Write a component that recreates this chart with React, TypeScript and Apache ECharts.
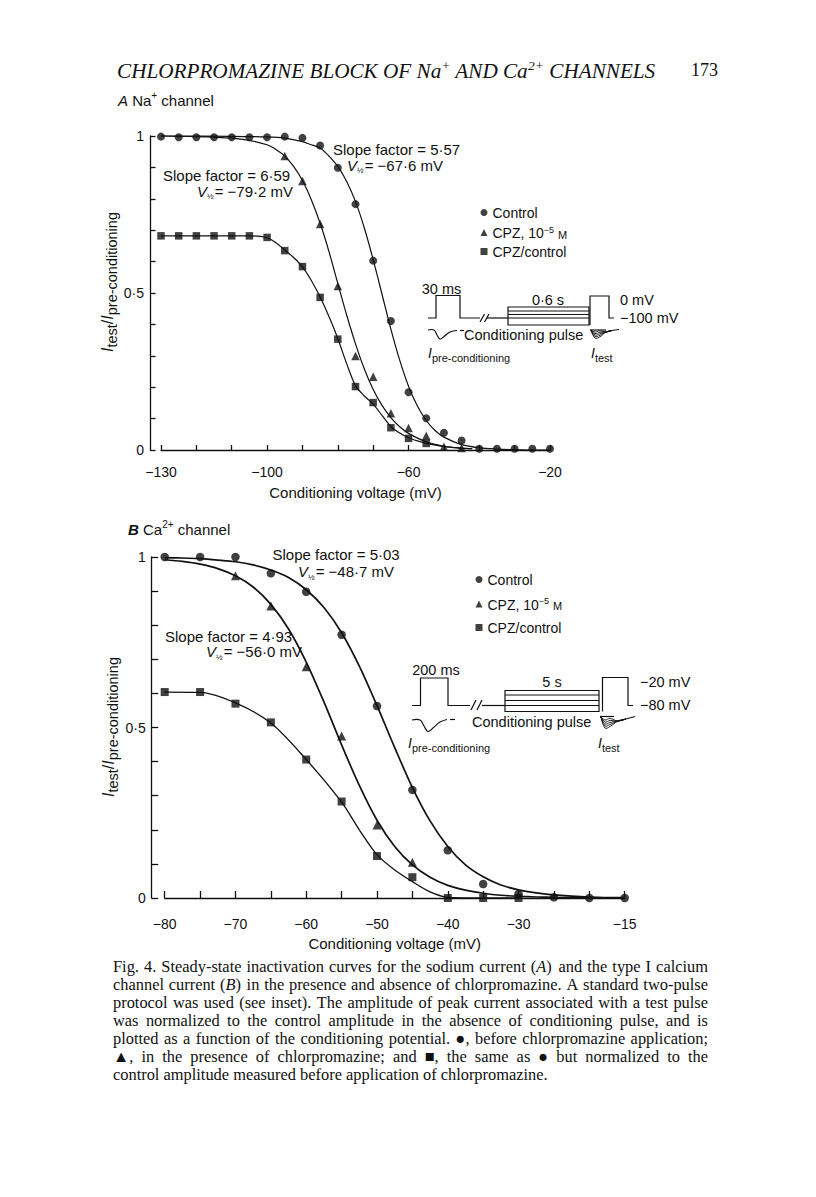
import React, { useEffect, useRef } from "react";
import * as echarts from "echarts";

// ---------------- Panel A: Na+ channel (measured points) ----------------
const naVoltage = [-130, -125, -120, -115, -110, -105, -100, -95, -90, -85, -80, -75, -70, -65, -60, -55, -50, -45, -40, -35, -30, -25, -20];
const naControl = [0.998, 0.996, 0.996, 0.996, 0.996, 0.996, 0.996, 0.998, 0.994, 0.97, 0.899, 0.783, 0.603, 0.411, 0.184, 0.101, 0.055, 0.03, 0.004, 0.004, 0.004, 0.004, 0.004];
const naCpzVoltage = [-95, -90, -85, -80, -75, -70, -65, -60, -55, -50, -45];
const naCpz = [0.936, 0.857, 0.72, 0.522, 0.299, 0.233, 0.117, 0.07, 0.045, 0.01, 0.006];
const naRatioVoltage = [-130, -125, -120, -115, -110, -105, -100, -95, -90, -85, -80, -75, -70, -65, -60, -55];
const naRatio = [0.682, 0.682, 0.682, 0.682, 0.682, 0.682, 0.677, 0.635, 0.584, 0.486, 0.353, 0.202, 0.151, 0.071, 0.037, 0.021];

// Panel A fitted curves
const naFitControlV = [-130, -110, -100, -95, -90, -87.5, -85, -82.5, -80, -77.5, -75, -72.5, -70, -67.5, -65, -62.5, -60, -57.5, -55, -52.5, -50, -45, -40, -35, -30, -25, -20];
const naFitControl = [1.0, 0.999, 0.997, 0.993, 0.982, 0.972, 0.962, 0.936, 0.903, 0.855, 0.791, 0.707, 0.606, 0.496, 0.385, 0.286, 0.203, 0.14, 0.094, 0.062, 0.041, 0.017, 0.007, 0.003, 0.001, 0.0, 0.0];
const naFitCpzV = [-130, -120, -110, -105, -100, -97.5, -95, -92.5, -90, -87.5, -85, -82.5, -80, -77.5, -75, -72.5, -70, -67.5, -65, -62.5, -60, -55, -50, -45, -42];
const naFitCpz = [1.0, 0.998, 0.993, 0.986, 0.972, 0.957, 0.936, 0.903, 0.858, 0.797, 0.722, 0.632, 0.53, 0.43, 0.338, 0.258, 0.193, 0.142, 0.103, 0.074, 0.053, 0.026, 0.012, 0.006, 0.004];
const naFitRatioV = [-130, -105, -100, -97.5, -95, -92.5, -90, -87.5, -85, -82.5, -80, -77.5, -75, -72.5, -70, -67.5, -65, -62.5, -60, -57.5, -55, -50, -45, -42];
const naFitRatio = [0.682, 0.682, 0.676, 0.66, 0.637, 0.613, 0.583, 0.54, 0.487, 0.425, 0.355, 0.275, 0.205, 0.172, 0.146, 0.11, 0.075, 0.054, 0.039, 0.029, 0.021, 0.011, 0.006, 0.004];

// ---------------- Panel B: Ca2+ channel (measured points) ----------------
const caVoltage = [-80, -75, -70, -65, -60, -55, -50, -45, -40, -35, -30, -25, -20, -15];
const caControl = [1.0, 1.0, 1.0, 0.952, 0.898, 0.772, 0.563, 0.317, 0.14, 0.041, 0.012, 0.002, 0.0, 0.0];
const caCpzVoltage = [-70, -65, -60, -55, -50, -45];
const caCpz = [0.945, 0.856, 0.678, 0.475, 0.214, 0.105];
const caRatioVoltage = [-80, -75, -70, -65, -60, -55, -50, -45, -40, -35, -30];
const caRatio = [0.604, 0.604, 0.57, 0.515, 0.406, 0.283, 0.123, 0.061, 0.0, 0.0, 0.0];

// Panel B fitted curves
const caFitV = [-80, -77.5, -75, -72.5, -70, -67.5, -65, -62.5, -60, -57.5, -55, -52.5, -50, -47.5, -45, -42.5, -40, -37.5, -35, -32.5, -30, -27.5, -25, -20, -15];
const caFitControl = [0.998, 0.997, 0.995, 0.991, 0.986, 0.977, 0.962, 0.94, 0.904, 0.852, 0.778, 0.68, 0.564, 0.441, 0.324, 0.226, 0.151, 0.097, 0.062, 0.038, 0.024, 0.015, 0.009, 0.003, 0.001];
const caFitCpz = [0.992, 0.987, 0.979, 0.966, 0.945, 0.912, 0.861, 0.789, 0.692, 0.575, 0.449, 0.33, 0.228, 0.151, 0.097, 0.061, 0.037, 0.023, 0.014, 0.008, 0.005, 0.003, 0.002, 0.001, 0.0];
const caFitRatioV = [-80, -75, -70, -65, -60, -55, -52.5, -50, -47.5, -45, -42.5, -40, -35, -30];
const caFitRatio = [0.604, 0.603, 0.572, 0.513, 0.406, 0.281, 0.2, 0.127, 0.082, 0.048, 0.018, 0.002, 0.0, 0.0];

// ---------------- tick labels ----------------
const naXLabelValues = [-130, -100, -60, -20];
const caXLabelValues = [-80, -70, -60, -50, -40, -30, -15];
const yLabelValues = [0, 0.5, 1];
const yLabelTexts = ["0", "0\u00b75", "1"];

const legendNames = ["Control", "CPZ", "CPZ/control"];

const captionLines = [
  "Fig. 4. Steady-state inactivation curves for the sodium current ({i|A}) and the type I calcium",
  "channel current ({i|B}) in the presence and absence of chlorpromazine. A standard two-pulse",
  "protocol was used (see inset). The amplitude of peak current associated with a test pulse",
  "was normalized to the control amplitude in the absence of conditioning pulse, and is",
  "plotted as a function of the conditioning potential. \u25cf, before chlorpromazine application;",
  "\u25b2, in the presence of chlorpromazine; and \u25a0, the same as \u25cf but normalized to the",
  "control amplitude measured before application of chlorpromazine.",
];

const SANS = "'Liberation Sans', Arial, Helvetica, sans-serif";
const SERIF = "'Liberation Serif', 'Times New Roman', serif";
const INK = "#111111";

const xy = (xs: number[], ys: number[]) => xs.map((x, i) => [x, ys[i]]);
const dash = (v: number) => (v < 0 ? "\u2212" + Math.abs(v) : String(v));

function txt(x: number, y: number, text: string, o: any = {}) {
  return {
    type: "text",
    x,
    y,
    rotation: o.rotation || 0,
    silent: true,
    style: {
      text,
      fill: INK,
      fontFamily: o.fontFamily || SANS,
      fontSize: o.fontSize || 15,
      fontStyle: o.fontStyle || "normal",
      fontWeight: o.fontWeight || "normal",
      align: o.align || "left",
      verticalAlign: o.verticalAlign || "middle",
      rich: o.rich,
    },
  };
}
function pl(points: number[][], o: any = {}) {
  return {
    type: "polyline",
    silent: true,
    shape: { points, smooth: o.smooth || 0 },
    style: { stroke: INK, lineWidth: o.lw || 1.2, fill: null },
  };
}
function ln(x1: number, y1: number, x2: number, y2: number, lw = 1.2) {
  return { type: "line", silent: true, shape: { x1, y1, x2, y2 }, style: { stroke: INK, lineWidth: lw } };
}

const subRich = (main: number, sub: number, pad: number) => ({
  i: { fontSize: main, fontStyle: "italic", fontFamily: SANS, lineHeight: main, verticalAlign: "top", fill: INK },
  n: { fontSize: main, fontFamily: SANS, lineHeight: main, verticalAlign: "top", fill: INK },
  s: { fontSize: sub, fontFamily: SANS, lineHeight: sub, padding: [pad, 0, 0, 0], verticalAlign: "top", fill: INK },
});
const supRich = (main: number, sup: number, supLH: number, family: string, italic: boolean) => ({
  t: { fontSize: main, fontFamily: family, fontStyle: italic ? "italic" : "normal", lineHeight: main + 2, verticalAlign: "bottom", fill: INK },
  i: { fontSize: main, fontFamily: family, fontStyle: "italic", lineHeight: main + 2, verticalAlign: "bottom", fill: INK },
  b: { fontSize: main, fontFamily: family, fontStyle: "italic", fontWeight: "bold", lineHeight: main + 2, verticalAlign: "bottom", fill: INK },
  s: { fontSize: sup, fontFamily: family, fontStyle: italic ? "italic" : "normal", lineHeight: supLH, verticalAlign: "top", fill: INK },
});
const halfRich = {
  v: { fontSize: 15, fontStyle: "italic", fontFamily: SANS, lineHeight: 15, verticalAlign: "top", fill: INK },
  h: { fontSize: 8, fontFamily: SANS, lineHeight: 8, padding: [9, 1, 0, 0], verticalAlign: "top", fill: INK },
  t: { fontSize: 15, fontFamily: SANS, lineHeight: 15, verticalAlign: "top", fill: INK },
};

function slopeTexts(x1: number, y1: number, slope: string, x2: number, y2: number, vhalf: string) {
  return [
    txt(x1, y1, "Slope factor = " + slope, { fontSize: 15 }),
    txt(x2, y2, "{v|V}{h|\u00bd}{t|= \u2212" + vhalf + " mV}", { rich: halfRich }),
  ];
}

function insetA() {
  const els: any[] = [];
  els.push(txt(441.5, 289, "30 ms", { align: "center", fontSize: 14.5 }));
  els.push(txt(548, 299.5, "0\u00b76 s", { align: "center", fontSize: 14.5 }));
  els.push(txt(620, 299.5, "0 mV", { fontSize: 14.5 }));
  els.push(txt(620, 317.5, "\u2212100 mV", { fontSize: 14.5 }));
  els.push(pl([[428, 318], [436, 318], [436, 295.5], [460, 295.5], [460, 318], [480, 318]]));
  els.push(ln(480, 322, 484.5, 314));
  els.push(ln(484.5, 322, 489, 314));
  els.push(ln(487, 318, 508, 318));
  els.push({ type: "rect", silent: true, shape: { x: 508, y: 307, width: 81, height: 18 }, style: { stroke: INK, lineWidth: 1.2, fill: null } });
  [311, 314.5, 318].forEach((y) => els.push(ln(508, y, 589, y, 1)));
  els.push(pl([[590, 325], [590, 296], [609, 296], [609, 318], [614, 318]]));
  els.push(pl([[428, 330], [434, 330], [437, 335], [440, 339], [444, 336.5], [450, 332], [457, 330.5]], { smooth: 0.4 }));
  els.push(ln(460, 330.5, 464, 330.5));
  els.push(txt(464, 335, "Conditioning pulse", { fontSize: 14.5 }));
  els.push(ln(590, 330, 606, 330));
  [332, 333.5, 335, 336.5, 338].forEach((d) =>
    els.push(pl([[591, 330], [595, d], [600, d - 1.2], [606, 332], [612, 330.5]], { smooth: 0.4, lw: 0.9 }))
  );
  els.push(ln(612, 330.5, 619, 329.5));
  els.push(txt(428, 353, "{i|I}{s|pre-conditioning}", { rich: subRich(14, 11, 6) }));
  els.push(txt(591, 353, "{i|I}{s|test}", { rich: subRich(14, 11, 6) }));
  return els;
}

function insetB() {
  const els: any[] = [];
  els.push(txt(436, 670, "200 ms", { align: "center", fontSize: 14.5 }));
  els.push(txt(552, 682, "5 s", { align: "center", fontSize: 14.5 }));
  els.push(txt(640, 682, "\u221220 mV", { fontSize: 14.5 }));
  els.push(txt(640, 705, "\u221280 mV", { fontSize: 14.5 }));
  els.push(pl([[412, 705.5], [420.5, 705.5], [420.5, 678], [448, 678], [448, 705.5], [470, 705.5]]));
  els.push(ln(471, 710, 476, 700));
  els.push(ln(477, 710, 482, 700));
  els.push(ln(482, 705.5, 505, 705.5));
  els.push({ type: "rect", silent: true, shape: { x: 505, y: 690.5, width: 94, height: 21 }, style: { stroke: INK, lineWidth: 1.2, fill: null } });
  [695, 700.5, 705.5].forEach((y) => els.push(ln(505, y, 599, y, 1)));
  els.push(pl([[602.5, 711.5], [602.5, 677.5], [628, 677.5], [628, 705.5], [633, 705.5]]));
  els.push(pl([[412, 720], [420, 720], [424, 726], [428, 731.5], [433, 728], [440, 722], [447, 719.5]], { smooth: 0.4 }));
  els.push(ln(450, 719.5, 455, 719.5));
  els.push(txt(472, 722, "Conditioning pulse", { fontSize: 14.5 }));
  els.push(ln(600, 716.5, 614, 716.5));
  [720, 722, 724, 726, 728].forEach((d) =>
    els.push(pl([[601, 717], [605, d], [610, d - 1.5], [618, 721], [626, 719]], { smooth: 0.4, lw: 0.9 }))
  );
  els.push(ln(626, 719, 635, 716.5));
  els.push(txt(408, 743, "{i|I}{s|pre-conditioning}", { rich: subRich(14, 11, 6) }));
  els.push(txt(598, 743, "{i|I}{s|test}", { rich: subRich(14, 11, 6) }));
  return els;
}

function captionEls() {
  const els: any[] = [];
  const fs = 16.4;
  const left = 113;
  const right = 708;
  const canvas = document.createElement("canvas");
  const ctx = canvas.getContext("2d") as CanvasRenderingContext2D;
  ctx.font = `${fs}px "Liberation Serif", "Times New Roman", serif`;
  const rich = { i: { fontFamily: SERIF, fontSize: fs, fontStyle: "italic", fill: INK } };
  captionLines.forEach((line, li) => {
    const y = 966 + li * 18;
    const words = line.split(" ");
    const widths = words.map((w) => ctx.measureText(w.replace(/\{i\|([^}]*)\}/g, "$1")).width);
    const total = widths.reduce((a, b) => a + b, 0);
    const last = li === captionLines.length - 1;
    const space = ctx.measureText(" ").width;
    const gap = last ? space : Math.max(space * 0.6, (right - left - total) / (words.length - 1));
    let x = left;
    words.forEach((w, k) => {
      els.push(txt(x, y, w, { fontFamily: SERIF, fontSize: fs, rich }));
      x += widths[k] + gap;
    });
  });
  return els;
}

function buildGraphics() {
  const els: any[] = [];
  els.push(
    txt(117, 70, "{t|CHLORPROMAZINE BLOCK OF Na}{s|+}{t| AND Ca}{s|2+}{t| CHANNELS}", {
      rich: supRich(21.2, 13.5, 17.5, SERIF, true),
    })
  );
  els.push(txt(718, 70, "173", { fontFamily: SERIF, fontSize: 18, align: "right" }));
  els.push(txt(118, 99, "{i|A}{t| Na}{s|+}{t| channel}", { rich: supRich(15, 10, 13, SANS, false) }));
  els.push(txt(128, 528, "{b|B}{t| Ca}{s|2+}{t| channel}", { rich: supRich(15, 10, 13, SANS, false) }));
  const yTitle = "{i|I}{s|test}{n|/}{i|I}{s|pre-conditioning}";
  els.push(txt(107, 282, yTitle, { rotation: Math.PI / 2, align: "center", rich: subRich(16, 14.5, 5) }));
  els.push(txt(108.5, 727, yTitle, { rotation: Math.PI / 2, align: "center", rich: subRich(16, 14.5, 5) }));
  els.push(...slopeTexts(333, 149.5, "5\u00b757", 347, 165, "67\u00b76"));
  els.push(...slopeTexts(163, 175, "6\u00b759", 197, 191, "79\u00b72"));
  els.push(...slopeTexts(272.5, 554, "5\u00b703", 298, 571.5, "48\u00b77"));
  els.push(...slopeTexts(165, 636, "4\u00b793", 206, 651.5, "56\u00b70"));
  els.push(...insetA(), ...insetB());
  els.push(...captionEls());
  return els;
}

function xAxisCfg(grid: number, min: number, max: number, interval: number, labels: number[], offset: number, tickLen: number, margin: number, nameGap: number) {
  return {
    type: "value",
    gridIndex: grid,
    min,
    max,
    interval,
    offset,
    name: "Conditioning voltage (mV)",
    nameLocation: "middle",
    nameGap,
    nameTextStyle: { fontFamily: SANS, fontSize: 15, color: INK },
    axisLine: { show: true, lineStyle: { color: INK, width: 1.3 } },
    axisTick: { show: true, inside: true, length: tickLen, lineStyle: { color: INK, width: 1.3 } },
    axisLabel: {
      margin,
      fontFamily: SANS,
      fontSize: 14,
      color: INK,
      showMinLabel: true,
      showMaxLabel: true,
      formatter: (v: number) => (labels.some((l) => Math.abs(l - v) < 1e-6) ? dash(v) : ""),
    },
    splitLine: { show: false },
  };
}
function yAxisCfg(grid: number, offset: number, tickLen: number) {
  return {
    type: "value",
    gridIndex: grid,
    min: 0,
    max: 1,
    interval: 0.1,
    offset,
    axisLine: { show: true, lineStyle: { color: INK, width: 1.3 } },
    axisTick: { show: true, inside: true, length: tickLen, lineStyle: { color: INK, width: 1.3 } },
    axisLabel: {
      margin: 6,
      fontFamily: SANS,
      fontSize: 14,
      color: INK,
      formatter: (v: number) => {
        const k = yLabelValues.findIndex((l) => Math.abs(l - v) < 1e-6);
        return k >= 0 ? yLabelTexts[k] : "";
      },
    },
    splitLine: { show: false },
  };
}

function fit(xi: number, data: number[][], width: number) {
  return {
    type: "line",
    xAxisIndex: xi,
    yAxisIndex: xi,
    data,
    showSymbol: false,
    symbol: "none",
    smooth: 0.3,
    clip: false,
    silent: true,
    lineStyle: { color: INK, width },
    z: 2,
  };
}
function pts(xi: number, name: string, data: number[][], symbol: string, size: number) {
  return {
    type: "scatter",
    name,
    xAxisIndex: xi,
    yAxisIndex: xi,
    data,
    symbol,
    symbolSize: size,
    clip: false,
    itemStyle: { color: INK },
    z: 3,
  };
}

function legendCfg(left: number, top: number, gap: number) {
  return {
    orient: "vertical",
    left,
    top,
    itemWidth: 7,
    itemHeight: 7,
    itemGap: gap,
    selectedMode: false,
    data: [
      { name: legendNames[0], icon: "circle" },
      { name: legendNames[1], icon: "triangle" },
      { name: legendNames[2], icon: "rect" },
    ],
    formatter: (name: string) => (name === "CPZ" ? "{t|CPZ, 10}{s|\u22125}{t| }{m|M}" : "{t|" + name + "}"),
    textStyle: {
      fontFamily: SANS,
      fontSize: 14,
      color: INK,
      rich: {
        t: { fontFamily: SANS, fontSize: 14, lineHeight: 15, verticalAlign: "bottom", color: INK },
        s: { fontFamily: SANS, fontSize: 9, lineHeight: 9, verticalAlign: "top", color: INK },
        m: { fontFamily: SANS, fontSize: 11, lineHeight: 11, verticalAlign: "bottom", color: INK },
      },
    },
  };
}

export default function App() {
  const ref = useRef<HTMLDivElement>(null);
  useEffect(() => {
    if (!ref.current) return;
    const chart = echarts.init(ref.current, null, { renderer: "svg" });
    chart.setOption({
      animation: false,
      backgroundColor: "#ffffff",
      grid: [
        { left: 161, top: 136, width: 389, height: 314 },
        { left: 164.7, top: 557, width: 460, height: 341 },
      ],
      xAxis: [
        xAxisCfg(0, -130, -20, 10, naXLabelValues, 9, 5, 6, 26),
        xAxisCfg(1, -80, -15, 5, caXLabelValues, 13.5, 7, 5, 24),
      ],
      yAxis: [yAxisCfg(0, 11, 5.5), yAxisCfg(1, 13, 6.5)],
      legend: [legendCfg(475.5, 201, 5), legendCfg(470.5, 568, 9.5)],
      graphic: buildGraphics(),
      series: [
        fit(0, xy(naFitControlV, naFitControl), 1.2),
        fit(0, xy(naFitCpzV, naFitCpz), 1.2),
        fit(0, xy(naFitRatioV, naFitRatio), 1.2),
        pts(0, "Control", xy(naVoltage, naControl), "circle", 8),
        pts(0, "CPZ", xy(naCpzVoltage, naCpz), "triangle", 8.5),
        pts(0, "CPZ/control", xy(naRatioVoltage, naRatio), "rect", 7.5),
        fit(1, xy(caFitV, caFitControl), 1.7),
        fit(1, xy(caFitV, caFitCpz), 1.7),
        fit(1, xy(caFitRatioV, caFitRatio), 1.3),
        pts(1, "Control", xy(caVoltage, caControl), "circle", 8.5),
        pts(1, "CPZ", xy(caCpzVoltage, caCpz), "triangle", 9),
        pts(1, "CPZ/control", xy(caRatioVoltage, caRatio), "rect", 8),
      ],
    });
    return () => chart.dispose();
  }, []);
  return <div ref={ref} style={{ position: "absolute", left: 0, top: 0, width: 816, height: 1197 }} />;
}
